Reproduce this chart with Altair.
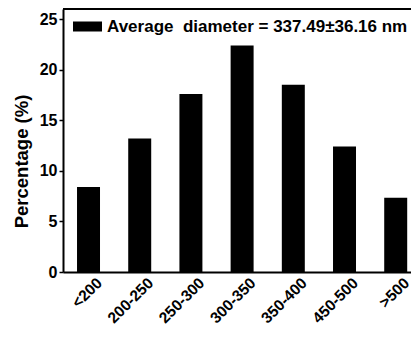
import altair as alt
import pandas as pd

categories = ["<200", "200-250", "250-300", "300-350", "350-400", "450-500", ">500"]
percentages = [8.4, 13.2, 17.6, 22.4, 18.5, 12.4, 7.35]
legend_label = "Average\u00a0 diameter = 337.49\u00b136.16 nm"
y_ticks = [0, 5, 10, 15, 20, 25]
y_max = 26

df = pd.DataFrame({"size": categories, "pct": percentages, "series": [legend_label] * len(categories)})

FONT = "Liberation Sans"

bars = alt.Chart(df).mark_bar(color="black").encode(
    x=alt.X("size:N", sort=categories,
            scale=alt.Scale(paddingInner=0.551, paddingOuter=0.174, align=0.787),
            axis=alt.Axis(title=None, ticks=False, tickSize=0, domain=True,
                          domainColor="black", domainWidth=2, labelAngle=-45,
                          labelAlign="right", labelBaseline="middle",
                          labelFont=FONT, labelFontWeight="bold", labelFontSize=15.5,
                          labelColor="black", labelPadding=8, labelOffset=11)),
    y=alt.Y("pct:Q", scale=alt.Scale(domain=[0, y_max], nice=False),
            axis=alt.Axis(title="Percentage (%)", values=y_ticks, grid=False, domain=True,
                          domainColor="black", domainWidth=2,
                          tickSize=4, tickWidth=1.5, tickColor="black",
                          labelFont=FONT, labelFontWeight="bold", labelFontSize=16,
                          labelColor="black", labelPadding=2,
                          titleFont=FONT, titleFontWeight="bold", titleFontSize=18.5,
                          titleColor="black", titleX=-42, titleY=152, titleAngle=-90,
                          titleAlign="center", titleBaseline="middle")),
    color=alt.Color("series:N", scale=alt.Scale(domain=[legend_label], range=["black"]),
                    legend=alt.Legend(title=None, orient="none", legendX=10, legendY=3,
                                      symbolType="M-1,-0.345H1V0.345H-1Z", symbolSize=841,
                                      symbolStrokeWidth=0, symbolOpacity=1, padding=0,
                                      labelFont=FONT, labelFontWeight="bold", labelFontSize=17,
                                      labelColor="black", labelOffset=5, labelLimit=0)),
)

top_rule = alt.Chart(df).mark_rule(color="black", strokeWidth=2).encode(y=alt.datum(y_max))

chart = alt.layer(bars, top_rule).properties(
    width=348, height=263,
    background="white",
    autosize=alt.AutoSizeParams(type="none"),
    padding={"left": 55, "top": 1, "right": 0, "bottom": 56},
).configure_view(stroke=None)

chart.save("out.html", embed_options={"renderer": "svg", "actions": False})
